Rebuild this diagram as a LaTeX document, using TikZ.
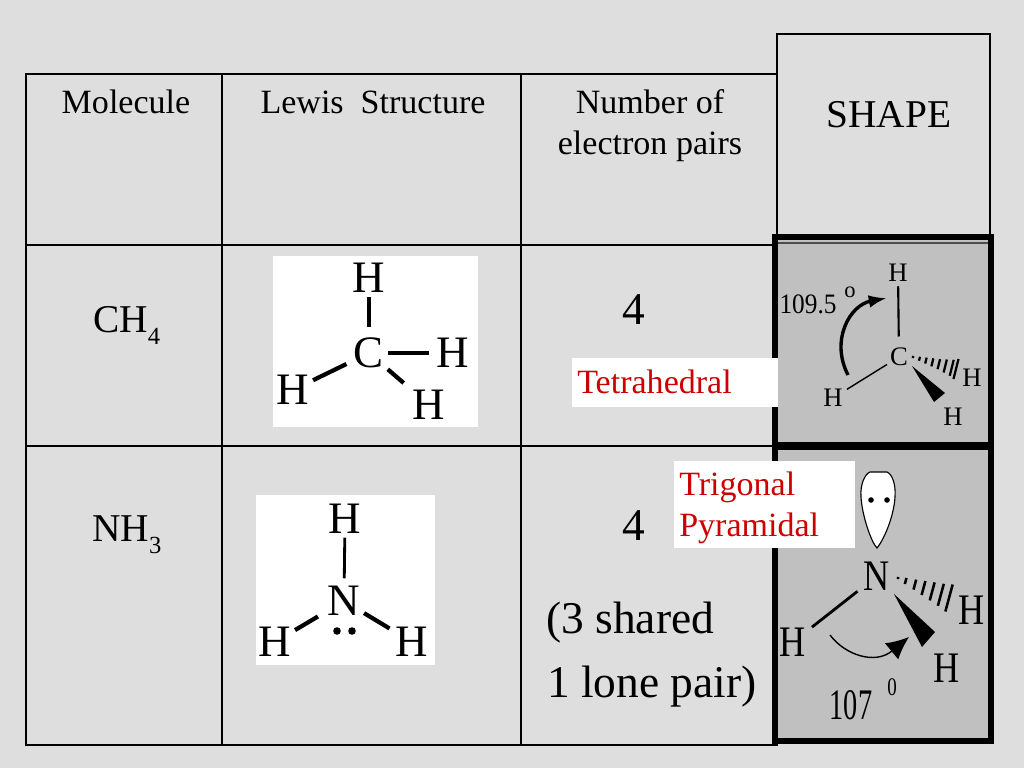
\documentclass[tikz,border=0pt]{standalone}
\usepackage{fontspec}
\setmainfont{Liberation Serif}
\usetikzlibrary{calc,arrows.meta}
\definecolor{slidegray}{RGB}{222,222,222}
\definecolor{boxgray}{RGB}{192,192,192}
\definecolor{labelred}{RGB}{204,0,0}
\newcommand{\lowdigit}[1]{\raisebox{-9pt}{\fontsize{17.5}{20}\selectfont #1}}
\tikzset{
    headtext/.style={font=\fontsize{24.2}{29}\selectfont, inner sep=0pt},
    bigtext/.style={font=\fontsize{32.3}{45.5}\selectfont, inner sep=0pt},
    formula/.style={font=\fontsize{28}{34}\selectfont, inner sep=0pt, anchor=base west},
    redlabel/.style={font=\fontsize{24.2}{29}\selectfont, text=labelred, inner sep=0pt, anchor=west, align=left},
    lewisatom/.style={font=\fontsize{32}{36}\selectfont, inner sep=2.5pt},
    tinyatom/.style={font=\fontsize{19}{22}\selectfont, inner sep=2pt},
    tallatom/.style={font=\fontsize{31}{36}\selectfont, inner sep=2pt, transform shape, xscale=.83},
    lewisbond/.style={line width=2.3pt},
    tablerule/.style={black, line width=1.1pt},
    heavyrule/.style={black, line width=3.6pt},
}
\begin{document}
\begin{tikzpicture}[x=0.025cm, y=-0.025cm]
% Slide background
\fill[slidegray] (0,0) rectangle (1024,768);

% Gray panels of the shape column
\fill[boxgray] (775,237) rectangle (991,445);
\fill[boxgray] (775,447) rectangle (991,741);

% Table rules
\draw[tablerule] (26,74) rectangle (777,745);
\foreach \x in {222,521} {
    \draw[tablerule] (\x,74) -- (\x,745);
}
\foreach \y in {245,446} {
    \draw[tablerule] (26,\y) -- (777,\y);
}
\draw[tablerule] (777,74) -- (777,34) -- (990,34) -- (990,237);
\draw[black!70, line width=1pt] (777,243) -- (990,243);

% Heavy frames
\draw[heavyrule] (775,237) rectangle (991,445);
\draw[heavyrule] (775,447) rectangle (991,741);

% White patches
\fill[white] (572,358) rectangle (778,407);
\fill[white] (674,461) rectangle (855,548);
\fill[white] (273,256) rectangle (478,427);
\fill[white] (256,495) rectangle (435,665);

% Header row
\node[headtext, anchor=base] (molecule) at (126,114) {Molecule};
\node[headtext, anchor=base] (lewis) at (373,114) {Lewis\ \ Structure};
\node[headtext, align=center] (pairs) at (650,126) {Number of\\electron pairs};
\node[font=\fontsize{28}{34}\selectfont, inner sep=0pt, anchor=base] (shape) at (889,128) {SHAPE};

% Row labels
\node[formula] (methane) at (93,332) {CH\lowdigit{4}};
\node[formula] (ammonia) at (92,541) {NH\lowdigit{3}};

% Pair counts
\node[bigtext, anchor=base] (countc) at (634,324) {4};
\node[bigtext, anchor=base] (countn) at (634,540) {4};
\node[bigtext, anchor=base west] (shared) at (546,633) {(3 shared};
\node[bigtext, anchor=base west] (lone) at (547,697) {1 lone pair)};

% Red labels
\node[redlabel] (tetra) at (577,382) {Tetrahedral};
\node[redlabel] (trigonal) at (679,508) {Trigonal\\Pyramidal};

% Lewis structure of CH4
\node[lewisatom] (cc) at (369,353) {C};
\node[lewisatom] (cht) at (369,278) {H};
\node[lewisatom] (chr) at (453,353) {H};
\node[lewisatom] (chl) at (293,390) {H};
\node[lewisatom] (chb) at (429,405) {H};
\draw[lewisbond, shorten <=5pt] (cc) -- (cht);
\draw[lewisbond, shorten >=2.5pt] (cc) -- (chr);
\draw[lewisbond, line width=3pt, shorten <=3pt] (cc) -- (chl);
\draw[lewisbond, line width=3pt, shorten >=5pt] (cc) -- (chb);

% Lewis structure of NH3
\node[lewisatom] (nn) at (344,601) {N};
\node[lewisatom] (nht) at (345,519) {H};
\node[lewisatom] (nhl) at (275,642) {H};
\node[lewisatom] (nhr) at (412,642) {H};
\draw[lewisbond, line width=2pt, shorten <=3pt] (nn) -- (nht);
\draw[lewisbond, line width=3pt, shorten <=5pt] (nn) -- (nhl);
\draw[lewisbond, line width=3pt, shorten >=2pt] (nn) -- (nhr);
\fill (337,631) circle (3.8);
\fill (352,631) circle (3.8);

% Shape of CH4
\node[tinyatom] (sc) at (899,357) {C};
\node[tinyatom] (sht) at (898,273) {H};
\node[tinyatom] (shl) at (833,398) {H};
\node[tinyatom] (shr) at (972,378) {H};
\node[tinyatom] (shb) at (953,417) {H};
\draw[line width=1.5pt, shorten <=6pt, shorten >=1pt] (sc) -- (sht);
\draw[line width=1pt, shorten >=1pt] (sc) -- (shl);
\fill (912,366) -- (945,393) -- (934,402) -- cycle;
\coordinate (shash1) at (913,357);
\coordinate (shash2) at (956,369);
\foreach \t/\h in {0/1, .15/2, .3/3, .45/4, .6/5, .75/6.5, .9/8, 1/10} {
    \draw[line width=1.6pt] ($(shash1)!\t!(shash2)+(.25*\h,-\h)$) -- ($(shash1)!\t!(shash2)+(-.25*\h,\h)$);
}
\node[font=\fontsize{20}{22}\selectfont, inner sep=0pt, transform shape, xscale=.9] (anglec) at (808,304) {109.5};
\node[font=\fontsize{16}{18}\selectfont, inner sep=0pt] (degc) at (850,292) {o};
\coordinate (arcc1) at (848,375);
\coordinate (arcc2) at (887,298);
\draw[line width=2.4pt, -{Latex[length=13pt, width=9pt]}] (arcc1) .. controls (830,340) and (850,305) .. (arcc2);

% Shape of NH3
\draw[fill=white, line width=.8pt] (870,472) -- (887,472)
    .. controls (892,474) and (896,484) .. (895,497)
    .. controls (894,515) and (885,538) .. (877,548)
    .. controls (871,542) and (862,515) .. (861,497)
    .. controls (860,484) and (865,474) .. (870,472) -- cycle;
\fill (871,500) circle (2.8);
\fill (887,500) circle (2.8);
\node[tallatom] (sn) at (877,576) {N};
\node[tallatom] (snl) at (793,642) {H};
\node[tallatom] (snr) at (972,610) {H};
\node[tallatom] (snb) at (947,668) {H};
\draw[line width=2pt, shorten <=3.5pt, shorten >=3pt] (sn) -- (snl);
\fill (894,594) -- (935,632) -- (922,647) -- cycle;
\coordinate (nhash1) at (898,578);
\coordinate (nhash2) at (949,598);
\foreach \t/\h in {0/1, .15/3, .33/5, .5/7, .67/9, .84/11, 1/13.5} {
    \draw[line width=1.8pt] ($(nhash1)!\t!(nhash2)+(.27*\h,-\h)$) -- ($(nhash1)!\t!(nhash2)+(-.27*\h,\h)$);
}
\coordinate (arcn1) at (830,635);
\coordinate (arcn2) at (909,637);
\draw[line width=1pt, -{Latex[length=16pt, width=15pt]}] (arcn1) .. controls (845,655) and (875,665) .. (arcn2);
\node[font=\fontsize{31}{36}\selectfont, inner sep=0pt, transform shape, xscale=.65] (anglen) at (851,705) {107};
\node[font=\fontsize{18}{20}\selectfont, inner sep=0pt, transform shape, xscale=.75] (degn) at (892,687) {0};
\end{tikzpicture}
\end{document}
